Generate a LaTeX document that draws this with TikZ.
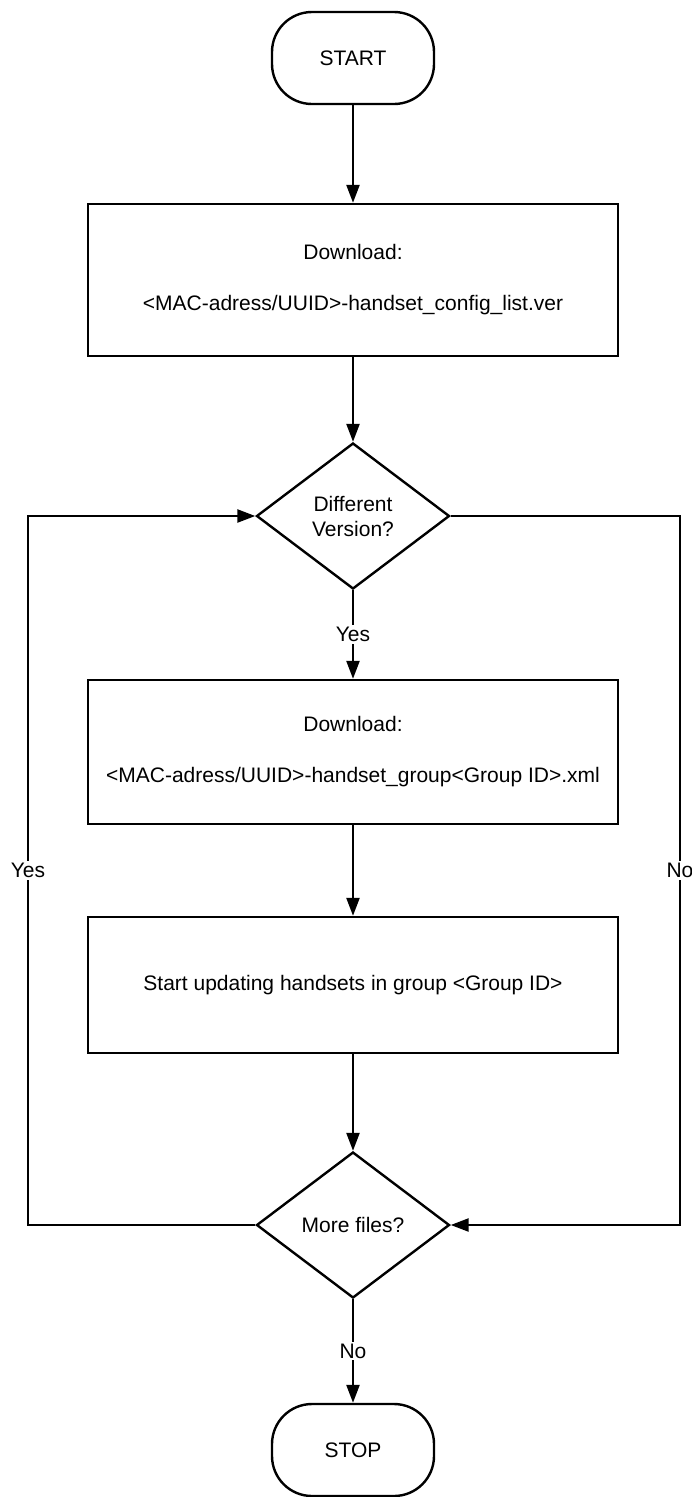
\documentclass[tikz,border=0pt]{standalone}
\usepackage{fontspec}
\setmainfont{Liberation Sans}
\usetikzlibrary{arrows.meta,positioning,calc,shapes.geometric}

\begin{document}
\begin{tikzpicture}[x=1pt,y=-1pt,line width=2.4pt,
        font=\fontsize{21}{25}\selectfont,
        >={Triangle[length=18pt,width=13pt]},
        term/.style={draw,rounded corners=40pt,minimum width=162pt,minimum height=92pt},
        procbox/.style={draw,minimum width=530pt,align=center},
        decision/.style={draw,diamond,minimum width=193pt,minimum height=146pt,inner sep=0pt,align=center},
        lbl/.style={fill=white,inner sep=2pt}]
        \useasboundingbox (0,0) rectangle (691,1497);
        \node[term] (start) at (353,58) {START};
        \node[procbox,minimum height=152pt] (dlver) at (353,280) {Download:\\[26pt]<MAC-adress/UUID>-handset\_config\_list.ver};
        \node[decision] (diff) at (353,516) {Different\\Version?};
        \node[procbox,minimum height=144pt] (dlxml) at (353,752) {Download:\\[26pt]<MAC-adress/UUID>-handset\_group<Group ID>.xml};
        \node[procbox,minimum height=136pt] (update) at (353,985) {Start updating handsets in group <Group ID>};
        \node[decision] (more) at (353,1225) {More files?};
        \node[term] (stop) at (353,1450) {STOP};
        \coordinate (lft) at (28,0);
        \coordinate (rgt) at (680,0);
        \draw[->] (start) -- (dlver);
        \draw[->] (dlver) -- (diff);
        \draw[->] (diff) -- node[lbl] {Yes} (dlxml);
        \draw[->] (dlxml) -- (update);
        \draw[->] (update) -- (more);
        \draw[->] (more) -- node[lbl] {No} (stop);
        \draw[->] (more) -- (more -| lft) -- node[lbl] {Yes} (diff -| lft) -- (diff);
        \draw[->] (diff) -- (diff -| rgt) -- node[lbl] {No} (more -| rgt) -- (more);
    \end{tikzpicture}
\end{document}
